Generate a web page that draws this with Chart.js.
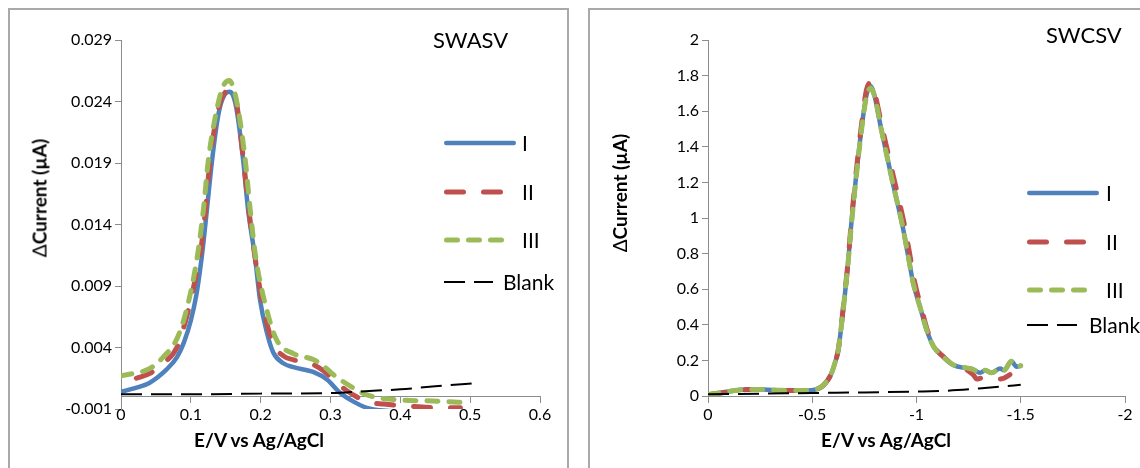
<!DOCTYPE html>
<html lang="en">
<head>
<meta charset="utf-8">
<title>SWASV / SWCSV</title>
<script src="https://cdn.jsdelivr.net/npm/chart.js@4.4.0/dist/chart.umd.min.js"></script>
<style>
html, body { margin:0; padding:0; background:#fff; }
body { width:1140px; height:468px; overflow:hidden; position:relative; font-family: Lato, "Open Sans", sans-serif; color:#000; }
.frame { position:absolute; border:2px solid #a9a9a9; box-sizing:border-box; }
canvas { position:absolute; top:0; }
.txt { position:absolute; white-space:nowrap; }
.name { font-size:22px; line-height:24px; }
.xt { font-weight:bold; font-size:19px; transform:translate(-50%,-50%); }
.yt { font-weight:bold; font-size:19px; transform:translate(-50%,-50%) rotate(-90deg); }
.yt span { font-weight:normal; }
.lg { font-size:21px; line-height:24px; }
svg.sample { position:absolute; overflow:visible; }
</style>
</head>
<body>
<div class="frame" style="left:8px;top:8px;width:561px;height:490px"></div>
<div class="frame" style="left:588px;top:8px;width:600px;height:490px"></div>
<canvas id="swasv" width="580" height="468" style="left:0"></canvas>
<canvas id="swcsv" width="560" height="468" style="left:580px"></canvas>

<div class="txt name" style="left:433px;top:28px">SWASV</div>
<div class="txt name" style="left:1046px;top:23px">SWCSV</div>
<div class="txt xt" style="left:259px;top:439px">E/V vs Ag/AgCl</div>
<div class="txt xt" style="left:886px;top:439px">E/V vs Ag/AgCl</div>
<div class="txt yt" style="left:39px;top:198px"><span>&#916;</span>Current (&#181;A)</div>
<div class="txt yt" style="left:619px;top:193px"><span>&#916;</span>Current (&#181;A)</div>
<div id="legends"></div>

<script>
// series names (legend text)
const seriesNames = ['I', 'II', 'III', 'Blank'];

// SWASV  [E (V), dCurrent (uA)]
const swasvI = [[0,0.0004],[0.02,0.0007],[0.04,0.0011],[0.065,0.0022],[0.08,0.0032],[0.09,0.0044],[0.1,0.0062],[0.108,0.0083],[0.113,0.0102],[0.118,0.0125],[0.123,0.0152],[0.13,0.019],[0.137,0.0221],[0.142,0.0236],[0.149,0.0246],[0.156,0.0248],[0.161,0.0244],[0.166,0.0232],[0.175,0.0192],[0.182,0.0152],[0.192,0.0113],[0.199,0.0079],[0.209,0.0052],[0.218,0.0036],[0.233,0.0027],[0.247,0.0024],[0.276,0.002],[0.295,0.0014],[0.314,0.0003],[0.333,-0.0004],[0.352,-0.0009],[0.371,-0.0011],[0.4,-0.0012],[0.43,-0.0012]];
const swasvII = [[0.022,0.0015],[0.0415,0.0019],[0.06,0.0027],[0.08,0.004],[0.094,0.0065],[0.108,0.01],[0.114,0.0118],[0.121,0.0152],[0.1275,0.0192],[0.139,0.0233],[0.15,0.0248],[0.16,0.025],[0.166,0.0237],[0.175,0.0194],[0.183,0.0152],[0.192,0.0113],[0.204,0.0072],[0.218,0.0043],[0.233,0.0033],[0.247,0.003],[0.276,0.0026],[0.29,0.0021],[0.304,0.0014],[0.323,0.0005],[0.352,-0.0004],[0.376,-0.0006],[0.42,-0.0008],[0.457,-0.0009],[0.486,-0.0009]];
const swasvIII = [[0,0.0017],[0.0415,0.0023],[0.06,0.0032],[0.08,0.0047],[0.094,0.0071],[0.109,0.0113],[0.118,0.0152],[0.125,0.0192],[0.137,0.0233],[0.146,0.0252],[0.155,0.0257],[0.161,0.0251],[0.168,0.0233],[0.178,0.0192],[0.185,0.0152],[0.193,0.0113],[0.209,0.007],[0.223,0.0046],[0.247,0.0035],[0.276,0.003],[0.29,0.0025],[0.304,0.0018],[0.333,0.0007],[0.352,0.00014],[0.4,-0.00027],[0.447,-0.00035],[0.5,-0.0005]];
const swasvBlank = [[0,0.0002],[0.1,0.0002],[0.2,0.00025],[0.3,0.0003],[0.35,0.00045],[0.4,0.0006],[0.45,0.00085],[0.507,0.0011]];
const swasvXTicks = [0, 0.1, 0.2, 0.3, 0.4, 0.5, 0.6];
const swasvXLabels = ['0', '0.1', '0.2', '0.3', '0.4', '0.5', '0.6'];
const swasvYTicks = [-0.001, 0.004, 0.009, 0.014, 0.019, 0.024, 0.029];
const swasvYLabels = ['-0.001', '0.004', '0.009', '0.014', '0.019', '0.024', '0.029'];

// SWCSV  [E (V), dCurrent (uA)]
const swcsvI = [[0,0.008],[-0.05,0.015],[-0.1,0.025],[-0.185,0.036],[-0.265,0.036],[-0.35,0.031],[-0.45,0.031],[-0.505,0.034],[-0.535,0.045],[-0.553,0.06],[-0.575,0.09],[-0.593,0.13],[-0.61,0.19],[-0.625,0.26],[-0.648,0.48],[-0.672,0.75],[-0.686,0.95],[-0.71,1.23],[-0.737,1.51],[-0.76,1.69],[-0.78,1.74],[-0.8,1.68],[-0.829,1.51],[-0.88,1.23],[-0.934,0.95],[-0.961,0.78],[-0.985,0.63],[-1.017,0.5],[-1.049,0.37],[-1.081,0.28],[-1.129,0.22],[-1.177,0.174],[-1.24,0.156],[-1.27,0.15],[-1.305,0.13],[-1.33,0.145],[-1.36,0.13],[-1.4,0.155],[-1.42,0.145],[-1.455,0.195],[-1.48,0.165],[-1.5,0.17]];
const swcsvII = [[0,0.008],[-0.05,0.015],[-0.1,0.025],[-0.185,0.036],[-0.265,0.036],[-0.35,0.031],[-0.45,0.031],[-0.505,0.034],[-0.535,0.045],[-0.553,0.06],[-0.575,0.09],[-0.593,0.13],[-0.61,0.19],[-0.625,0.26],[-0.648,0.49],[-0.672,0.76],[-0.686,0.96],[-0.71,1.25],[-0.737,1.53],[-0.76,1.72],[-0.78,1.76],[-0.8,1.7],[-0.835,1.51],[-0.89,1.23],[-0.944,0.95],[-0.97,0.78],[-0.993,0.63],[-1.022,0.5],[-1.052,0.37],[-1.083,0.28],[-1.13,0.22],[-1.177,0.174],[-1.22,0.16],[-1.25,0.14],[-1.273,0.118],[-1.29,0.095],[-1.31,0.1],[-1.36,0.1],[-1.39,0.095],[-1.42,0.1],[-1.448,0.12]];
const swcsvIII = [[0,0.01],[-0.05,0.016],[-0.1,0.026],[-0.185,0.037],[-0.265,0.036],[-0.35,0.032],[-0.45,0.031],[-0.505,0.035],[-0.535,0.046],[-0.553,0.062],[-0.575,0.092],[-0.593,0.13],[-0.61,0.19],[-0.625,0.26],[-0.648,0.48],[-0.672,0.75],[-0.686,0.94],[-0.71,1.22],[-0.737,1.5],[-0.76,1.68],[-0.78,1.73],[-0.8,1.68],[-0.829,1.51],[-0.88,1.23],[-0.934,0.95],[-0.961,0.78],[-0.985,0.63],[-1.017,0.5],[-1.049,0.37],[-1.081,0.28],[-1.129,0.22],[-1.177,0.175],[-1.24,0.158],[-1.27,0.15],[-1.305,0.13],[-1.33,0.145],[-1.36,0.13],[-1.4,0.155],[-1.42,0.145],[-1.455,0.195],[-1.48,0.165],[-1.5,0.17]];
const swcsvBlank = [[0,0.01],[-0.25,0.013],[-0.5,0.017],[-0.75,0.02],[-1,0.025],[-1.15,0.03],[-1.3,0.042],[-1.4,0.052],[-1.5,0.063]];
const swcsvXTicks = [0, -0.5, -1, -1.5, -2];
const swcsvXLabels = ['0', '-0.5', '-1', '-1.5', '-2'];
const swcsvYTicks = [0, 0.2, 0.4, 0.6, 0.8, 1, 1.2, 1.4, 1.6, 1.8, 2];
const swcsvYLabels = ['0', '0.2', '0.4', '0.6', '0.8', '1', '1.2', '1.4', '1.6', '1.8', '2'];

// line styles, same order as seriesNames
const styles = [
  {color: '#4F81BD', width: 4.5, dash: [], cap: 'round', order: 4},
  {color: '#C0504D', width: 5, dash: [17, 20], cap: 'round', order: 3},
  {color: '#9BBB59', width: 5, dash: [11, 11], cap: 'round', order: 2},
  {color: '#000000', width: 2, dash: [21, 9], cap: 'butt', order: 1}
];

const axisGray = '#8c8c8c';
const tickFont = {family: 'Lato', size: 16};

function dataset(i, pts) {
  const s = styles[i];
  return {
    label: seriesNames[i],
    data: pts.map(p => ({x: p[0], y: p[1]})),
    showLine: true,
    fill: false,
    pointRadius: 0,
    borderColor: s.color,
    borderWidth: s.width,
    borderDash: s.dash,
    borderCapStyle: s.cap,
    borderJoinStyle: 'round',
    cubicInterpolationMode: 'monotone',
    order: s.order
  };
}

function axis(ticks, labels, extra) {
  return Object.assign({
    type: 'linear',
    afterBuildTicks: sc => { sc.ticks = ticks.map(v => ({value: v})); },
    grid: {drawOnChartArea: false, drawTicks: true, tickLength: 6, tickColor: axisGray},
    border: {display: true, color: axisGray, width: 1},
    ticks: {font: tickFont, color: '#000', autoSkip: false, maxRotation: 0, minRotation: 0,
            callback: (v, i) => labels[i]}
  }, extra);
}

// x axis crosses at y = 0, so the space under the plot comes from the padding
function makeChart(id, series, xs, ys, pad, yWidth) {
  new Chart(document.getElementById(id), {
    type: 'scatter',
    data: {datasets: series.map((pts, i) => dataset(i, pts))},
    options: {
      responsive: false,
      animation: false,
      layout: {padding: pad},
      plugins: {legend: {display: false}, tooltip: {enabled: false}},
      scales: {
        x: axis(xs.ticks, xs.labels, {
          min: xs.min, max: xs.max, reverse: !!xs.reverse, position: {y: 0}
        }),
        y: axis(ys.ticks, ys.labels, {
          min: ys.min, max: ys.max, position: 'left',
          afterFit: sc => { sc.width = yWidth; }
        })
      }
    }
  });
}

makeChart('swasv', [swasvI, swasvII, swasvIII, swasvBlank],
  {ticks: swasvXTicks, labels: swasvXLabels, min: 0, max: 0.6},
  {ticks: swasvYTicks, labels: swasvYLabels, min: -0.001, max: 0.029},
  {left: 25, right: 40, top: 40, bottom: 59}, 96);

makeChart('swcsv', [swcsvI, swcsvII, swcsvIII, swcsvBlank],
  {ticks: swcsvXTicks, labels: swcsvXLabels, min: -2, max: 0, reverse: true},
  {ticks: swcsvYTicks, labels: swcsvYLabels, min: 0, max: 2},
  {left: 25, right: 15, top: 40, bottom: 72}, 103);

// legends: sample line + text, per chart
function legend(x0, ys, lens, textX) {
  const box = document.getElementById('legends');
  seriesNames.forEach(function(name, i) {
    const s = styles[i];
    const half = s.cap === 'round' ? s.width / 2 : 0;
    const svg = document.createElementNS('http://www.w3.org/2000/svg', 'svg');
    svg.setAttribute('class', 'sample');
    svg.setAttribute('width', lens[i]);
    svg.setAttribute('height', 10);
    svg.style.left = x0 + 'px';
    svg.style.top = (ys[i] - 5) + 'px';
    const ln = document.createElementNS('http://www.w3.org/2000/svg', 'line');
    ln.setAttribute('x1', half);
    ln.setAttribute('x2', lens[i] - half);
    ln.setAttribute('y1', 5);
    ln.setAttribute('y2', 5);
    ln.setAttribute('stroke', s.color);
    ln.setAttribute('stroke-width', s.width);
    ln.setAttribute('stroke-linecap', s.cap);
    if (s.dash.length) ln.setAttribute('stroke-dasharray', s.dash.join(' '));
    svg.appendChild(ln);
    box.appendChild(svg);
    const t = document.createElement('div');
    t.className = 'txt lg';
    t.style.left = textX[i] + 'px';
    t.style.top = (ys[i] - 12) + 'px';
    t.textContent = name;
    box.appendChild(t);
  });
}
legend(444, [143, 192, 240, 282], [72, 62, 62, 49], [522, 522, 522, 503]);
legend(1027, [193, 242, 290, 325], [72, 62, 62, 50], [1106, 1106, 1106, 1089]);
</script>
</body>
</html>
